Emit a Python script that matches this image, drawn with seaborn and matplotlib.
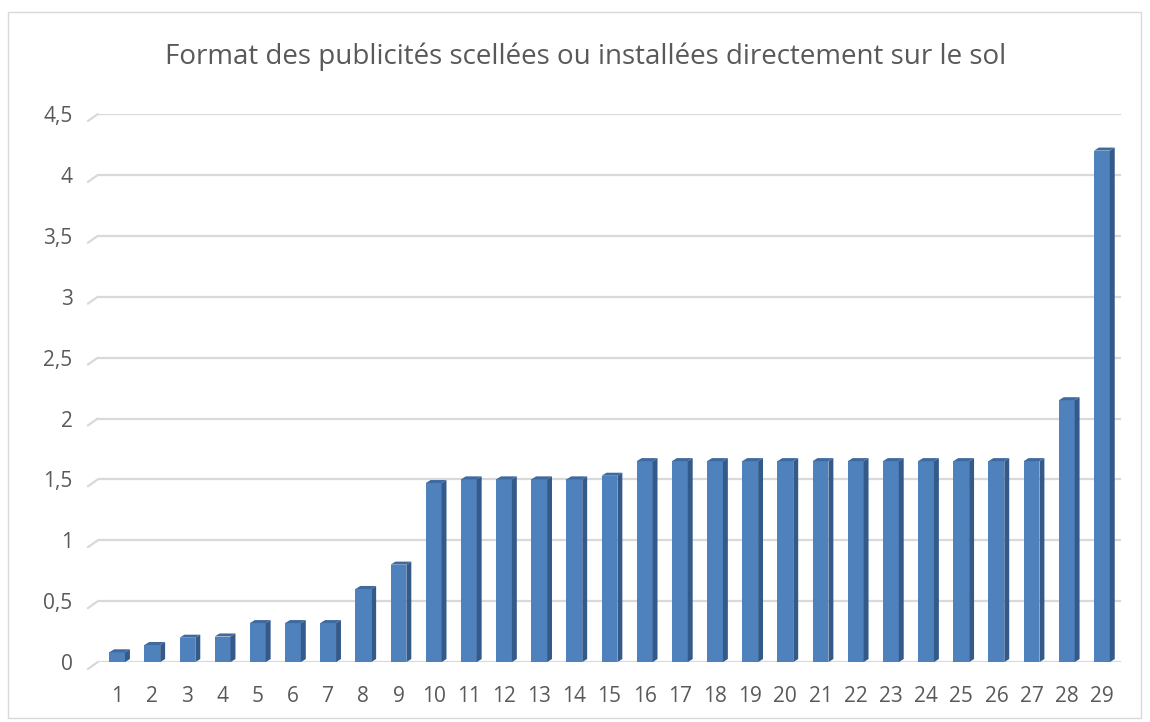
import numpy as np
import pandas as pd
import seaborn as sns
import matplotlib.pyplot as plt
from matplotlib.patches import Polygon, Rectangle

categories = [str(i) for i in range(1, 30)]
values = [0.08, 0.14, 0.2, 0.21, 0.32, 0.32, 0.32, 0.6, 0.8, 1.47,
          1.5, 1.5, 1.5, 1.5, 1.53, 1.65, 1.65, 1.65, 1.65, 1.65,
          1.65, 1.65, 1.65, 1.65, 1.65, 1.65, 1.65, 2.15, 4.2]
yticks = [0, 0.5, 1, 1.5, 2, 2.5, 3, 3.5, 4, 4.5]
ylabels = ["0", "0,5", "1", "1,5", "2", "2,5", "3", "3,5", "4", "4,5"]
title = "Format des publicités scellées ou installées directement sur le sol"

front = "#4f81bd"
side = "#345a8a"
top = "#3e6aa0"
txt = "#595959"

sns.set_style("white")
plt.rcParams['font.family'] = ['Open Sans', 'DejaVu Sans']

df = pd.DataFrame({"n": categories, "v": values})

fig = plt.figure(figsize=(11.5, 7.22), dpi=100)
ax = fig.add_axes([0.085, 0.083, 0.890, 0.759])

sns.barplot(data=df, x="n", y="v", color=front, width=0.45,
            saturation=1, linewidth=0, ax=ax, zorder=3)

# fake 3d faces on each bar
dx, dy = 0.14, 0.025
for p in ax.patches:
    x0 = p.get_x()
    x1 = x0 + p.get_width()
    h = p.get_height()
    ax.add_patch(Polygon([(x1, 0), (x1 + dx, dy), (x1 + dx, h + dy), (x1, h)],
                         closed=True, facecolor=side, edgecolor="none", zorder=3))
    ax.add_patch(Polygon([(x0, h), (x0 + dx, h + dy), (x1 + dx, h + dy), (x1, h)],
                         closed=True, facecolor=top, edgecolor="none", zorder=3))

xl = -0.55
ax.set_xlim(xl, 28.55)
ax.set_ylim(0, 4.5)
ax.set_yticks(yticks)
ax.set_yticklabels(ylabels)
for y in yticks:
    ax.axhline(y, color="#d9d9d9", lw=1.6, zorder=1)
    # little slanted stub of the side wall
    ax.plot([xl - 0.28, xl], [y - 0.057, y], color="#d9d9d9", lw=1.6,
            clip_on=False, zorder=1)
for s in ax.spines.values():
    s.set_visible(False)
ax.set_xlabel("")
ax.set_ylabel("")
ax.tick_params(axis="y", length=0, pad=18, labelsize=15, labelcolor=txt)
ax.tick_params(axis="x", length=0, pad=17, labelsize=15, labelcolor=txt)

fig.text(0.509, 0.921, title, ha="center", va="center", fontsize=20, color=txt)
fig.patches.append(Rectangle((0.007, 0.005), 0.985, 0.978, transform=fig.transFigure,
                             fill=False, edgecolor="#d9d9d9", lw=1))

fig.savefig("out.png", dpi=100)
